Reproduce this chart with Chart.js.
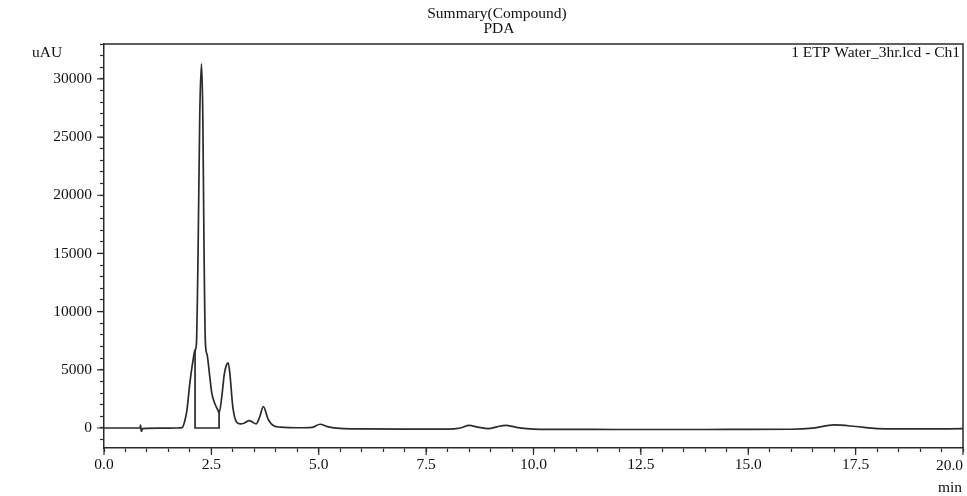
<!DOCTYPE html>
<html>
<head>
<meta charset="utf-8">
<script src="https://cdn.jsdelivr.net/npm/chart.js@4.4.1/dist/chart.umd.min.js"></script>
<style>
  html, body { margin: 0; padding: 0; background: #ffffff; }
  #wrap { width: 967px; height: 496px; }
</style>
</head>
<body>
<div id="wrap"><canvas id="pdaChart" width="967" height="496"></canvas></div>
<script>
// retention time (min) and detector signal (uAU)
const traceTime = [
  0, 0.5, 0.84, 0.85, 0.87, 0.9, 1.3, 1.7, 1.82, 1.88, 1.93, 2.0, 2.06, 2.12, 2.15,
  2.19, 2.23, 2.27, 2.3, 2.33, 2.36, 2.4, 2.46, 2.51, 2.58, 2.65, 2.68, 2.74, 2.8,
  2.85, 2.89, 2.93, 3.0, 3.09, 3.18, 3.28, 3.38, 3.46, 3.54, 3.62, 3.71, 3.82, 3.96,
  4.1, 4.5, 4.85, 5.03, 5.2, 5.5, 6.0, 7.0, 8.0, 8.3, 8.5, 8.7, 8.95, 9.15, 9.35,
  9.6, 10.0, 11.0, 12.0, 13.0, 14.0, 15.0, 16.0, 16.5, 17.0, 17.5, 18.0, 19.0, 20.0
];
const traceSignal = [
  0, 0, 0, 250, -300, -50, -20, 0, 30, 600, 1500, 3900, 5500, 6700, 7100,
  15000, 27000, 31300, 27000, 15000, 7400, 6300, 4500, 3000, 2100, 1550, 1300, 2600, 4600,
  5400, 5600, 4700, 1800, 500, 350, 450, 630, 500, 350, 900, 1830, 770, 170,
  80, 20, 60, 320, 120, -40, -80, -100, -100, 0, 220, 80, -60, 100, 230,
  60, -90, -120, -130, -130, -130, -120, -110, -20, 260, 130, -50, -80, -60
];
// integration baseline drawn under the first peak group
const baselineTime = [2.12, 2.12, 2.68, 2.68];
const baselineSignal = [6700, 0, 0, 1300];

const xTickLabels = [0, 2.5, 5, 7.5, 10, 12.5, 15, 17.5, 20];
const yTickLabels = [0, 5000, 10000, 15000, 20000, 25000, 30000];

const ink = "#2b2b2b";
const serif = "'Liberation Serif', 'DejaVu Serif', serif";
const textFont = "15.5px " + serif;

const pairs = (xs, ys) => xs.map((x, i) => ({ x: x, y: ys[i] }));
const inList = (list, v) => list.some((t) => Math.abs(t - v) < 1e-6);
const lastX = xTickLabels[xTickLabels.length - 1];

// frame, longer major ticks and the loose texts of the printout
const decorations = {
  id: "decorations",
  afterDraw(chart) {
    const { ctx, chartArea, scales } = chart;
    const { left, right, top, bottom } = chartArea;
    ctx.save();
    ctx.strokeStyle = ink;
    ctx.lineWidth = 1.5;
    ctx.beginPath();
    ctx.moveTo(left, top);
    ctx.lineTo(right, top);
    ctx.lineTo(right, bottom);
    ctx.stroke();

    ctx.lineWidth = 1.2;
    ctx.beginPath();
    yTickLabels.forEach((v) => {
      const y = scales.y.getPixelForValue(v);
      ctx.moveTo(left - 7, y);
      ctx.lineTo(left, y);
    });
    xTickLabels.forEach((v) => {
      const x = scales.x.getPixelForValue(v);
      ctx.moveTo(x, bottom);
      ctx.lineTo(x, bottom + 7);
    });
    ctx.stroke();

    ctx.fillStyle = "#111";
    ctx.font = textFont;
    ctx.textAlign = "center";
    ctx.textBaseline = "middle";
    ctx.fillText("Summary(Compound)", 497, 14);
    ctx.fillText("PDA", 499, 29);
    ctx.textAlign = "right";
    ctx.fillText("1 ETP Water_3hr.lcd - Ch1", 960, 53);
    // last x label sits flush with the axis end
    ctx.fillText(lastX.toFixed(1), scales.x.getPixelForValue(lastX), 466);
    ctx.fillText("min", 962, 488);
    ctx.textAlign = "left";
    ctx.fillText("uAU", 32, 53);
    ctx.restore();
  },
};

new Chart(document.getElementById("pdaChart"), {
  type: "line",
  data: {
    datasets: [
      {
        data: pairs(traceTime, traceSignal),
        borderColor: ink,
        borderWidth: 1.7,
        pointRadius: 0,
        cubicInterpolationMode: "monotone",
      },
      {
        data: pairs(baselineTime, baselineSignal),
        borderColor: ink,
        borderWidth: 1.7,
        pointRadius: 0,
        tension: 0,
      },
    ],
  },
  options: {
    responsive: false,
    animation: false,
    layout: { padding: { top: 44, right: 4, left: 0, bottom: 0 } },
    plugins: {
      legend: { display: false },
      tooltip: { enabled: false },
    },
    scales: {
      x: {
        type: "linear",
        min: 0,
        max: 20,
        afterFit(scale) {
          scale.height = 48;
          scale.paddingLeft = 0;
          scale.paddingRight = 0;
        },
        grid: { drawOnChartArea: false, tickLength: 4, tickColor: ink, tickWidth: 1.2 },
        border: { color: ink, width: 1.5 },
        ticks: {
          stepSize: 0.5,
          autoSkip: false,
          maxRotation: 0,
          padding: 4,
          color: "#111",
          font: { family: serif, size: 15.5 },
          callback: (v) => (inList(xTickLabels, v) && v !== lastX ? Number(v).toFixed(1) : ""),
        },
      },
      y: {
        min: -1720,
        max: 33000,
        afterFit(scale) {
          scale.width = 104;
          scale.paddingTop = 0;
          scale.paddingBottom = 0;
        },
        // minor ticks every 1000 uAU inside the axis range
        afterBuildTicks(scale) {
          const ticks = [];
          for (let v = Math.ceil(scale.min / 1000) * 1000; v <= scale.max; v += 1000) {
            ticks.push({ value: v });
          }
          scale.ticks = ticks;
        },
        grid: { drawOnChartArea: false, tickLength: 4, tickWidth: 1.2, tickColor: ink },
        border: { color: ink, width: 1.5 },
        ticks: {
          autoSkip: false,
          padding: 8,
          color: "#111",
          font: { family: serif, size: 15.5 },
          callback: (v) => (inList(yTickLabels, v) ? String(v) : ""),
        },
      },
    },
  },
  plugins: [decorations],
});
</script>
</body>
</html>
